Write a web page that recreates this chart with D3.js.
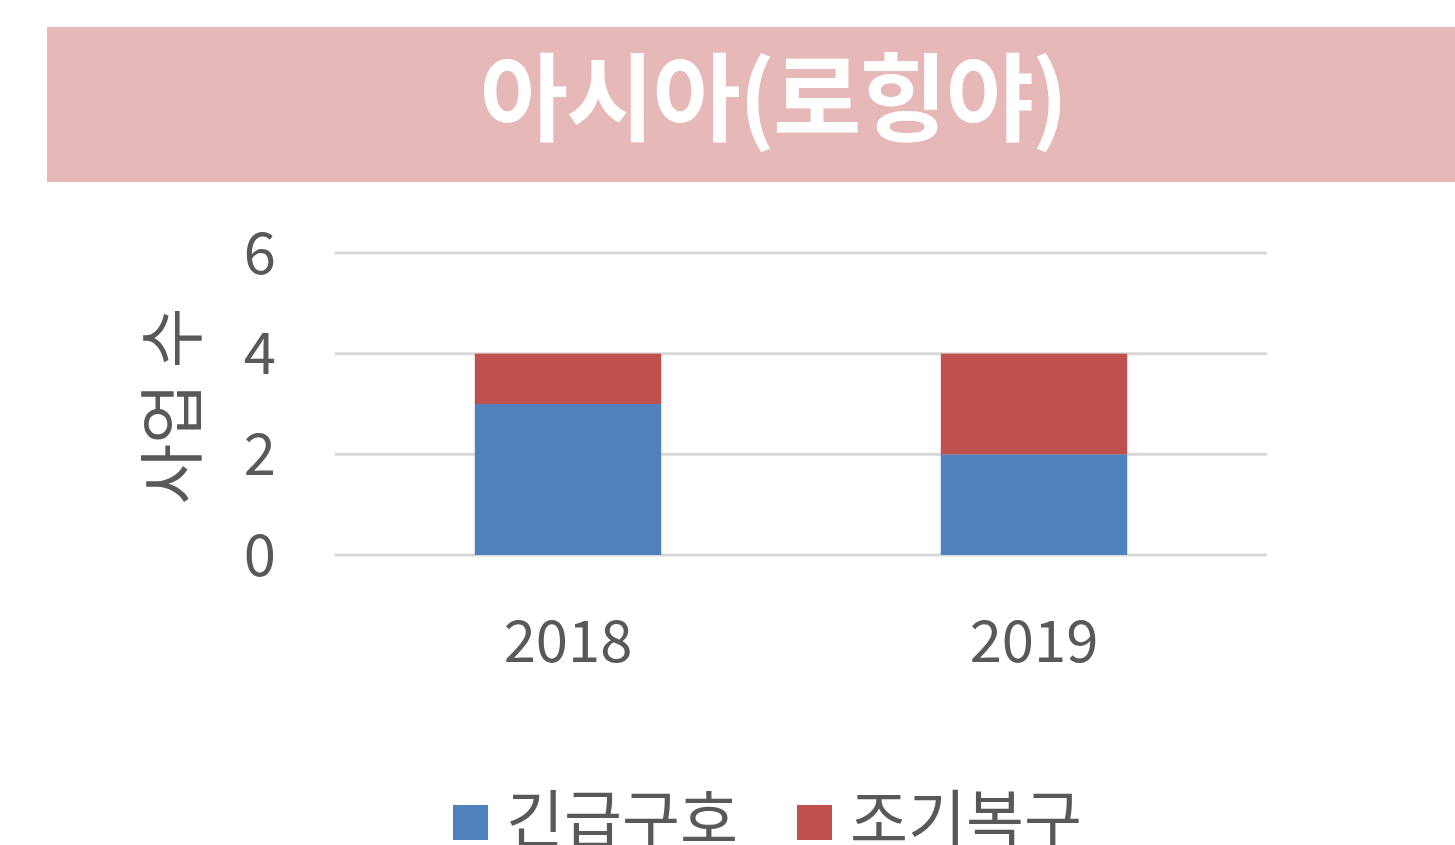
<!DOCTYPE html>
<html><head><meta charset="utf-8">
<script src="https://cdn.jsdelivr.net/npm/d3@7"></script>
<style>html,body{margin:0;padding:0;background:#fff;overflow:hidden}</style>
</head><body>
<svg id="c" width="1455" height="845"></svg>
<script>
const title = "아시아(로힝야)";
const yAxisTitle = "사업 수";
const categories = ["2018", "2019"];
const seriesNames = ["긴급구호", "조기복구"];
const emergency = [3, 2];
const recovery = [1, 2];
const yTicks = [0, 2, 4, 6];
const colors = ["#4F81BD", "#C0504D"];

const font = "'Noto Sans CJK KR', 'Noto Sans', sans-serif";
const svg = d3.select("#c");

svg.append("rect").attr("x", 47).attr("y", 27).attr("width", 1408).attr("height", 155).attr("fill", "#E6B8B7");
svg.append("text").attr("x", 773).attr("y", 133).attr("text-anchor", "middle")
  .attr("font-family", font).attr("font-weight", "bold").attr("font-size", 96)
  .attr("letter-spacing", -2).attr("fill", "#fff").text(title);

const x = d3.scaleBand().domain(categories).range([335, 1267]).paddingInner(0.6).paddingOuter(0.3);
const y = d3.scaleLinear().domain([0, 6]).range([555, 253]);

const g = svg.append("g");
g.selectAll("line.grid").data(yTicks).enter().append("line")
  .attr("x1", 335).attr("x2", 1267).attr("y1", d => y(d)).attr("y2", d => y(d))
  .attr("stroke", "#D9D9D9").attr("stroke-width", 3);

const stackData = categories.map((c, i) => ({cat: c, [seriesNames[0]]: emergency[i], [seriesNames[1]]: recovery[i]}));
const stack = d3.stack().keys(seriesNames)(stackData);
stack.forEach((s, si) => {
  g.selectAll(null).data(s).enter().append("rect")
    .attr("x", d => x(d.data.cat)).attr("width", x.bandwidth())
    .attr("y", d => y(d[1])).attr("height", d => y(d[0]) - y(d[1]))
    .attr("fill", colors[si]);
});

const yAxis = d3.axisLeft(y).tickValues(yTicks).tickFormat(d3.format("d")).tickSize(0).tickPadding(0);
const ya = svg.append("g").attr("transform", "translate(276,0)").call(yAxis);
ya.select(".domain").remove();
ya.selectAll("text").attr("font-family", font).attr("font-size", 58).attr("fill", "#595959").attr("dy", "0.35em");

const xAxis = d3.axisBottom(x).tickSize(0).tickPadding(0);
const xa = svg.append("g").attr("transform", "translate(0,662)").call(xAxis);
xa.select(".domain").remove();
xa.selectAll("text").attr("font-family", font).attr("font-size", 58).attr("fill", "#595959").attr("dy", 0);

svg.append("text").attr("transform", "translate(196,406) rotate(-90)").attr("text-anchor", "middle")
  .attr("font-family", font).attr("font-size", 66).attr("fill", "#595959").text(yAxisTitle);

const legendX = [453, 797];
seriesNames.forEach((n, i) => {
  svg.append("rect").attr("x", legendX[i]).attr("y", 805).attr("width", 35).attr("height", 35).attr("fill", colors[i]);
  svg.append("text").attr("x", legendX[i] + 53).attr("y", 842).attr("font-family", font).attr("font-size", 63)
    .attr("fill", "#595959").text(n);
});
</script>
</body></html>
